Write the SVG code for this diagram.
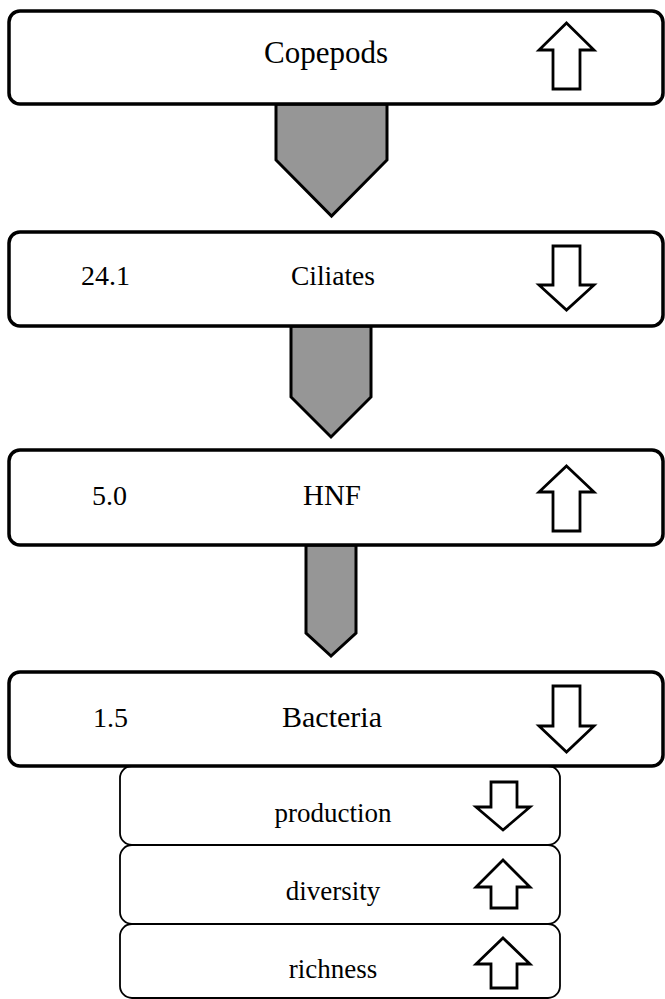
<svg xmlns="http://www.w3.org/2000/svg" width="665" height="999" viewBox="0 0 665 999">
<style>
.box{fill:#fff;stroke:#000;stroke-width:3.5}
.sub{fill:#fff;stroke:#000;stroke-width:1.8}
.flow{fill:#969696;stroke:#000;stroke-width:3;stroke-linejoin:miter}
.ind{fill:#fff;stroke:#000;stroke-width:2.8;stroke-linejoin:miter}
text{font-family:'Liberation Serif','Times New Roman',serif;fill:#000}
.lbl{font-size:29px;text-anchor:middle}
.num{font-size:28px}
.sl{font-size:27px;text-anchor:middle}
</style>
<rect width="665" height="999" fill="#fff"/>
<g id="connectors">
<polygon class="flow" points="276,104 387,104 387,160 331.5,216 276,160"/>
<polygon class="flow" points="291,326 371,326 371,397 331,437 291,397"/>
<polygon class="flow" points="306,545 356,545 356,633 331,656 306,633"/>
</g>
<g id="richness">
<rect class="sub" x="120" y="924" width="440" height="74" rx="12"/>
<text class="sl" x="333" y="978">richness</text>
<polygon class="ind" points="503,938 530,964 517,964 517,988 491,988 491,964 476,964"/>
</g>
<g id="diversity">
<rect class="sub" x="120" y="845" width="440" height="79" rx="12"/>
<text class="sl" x="333" y="900">diversity</text>
<polygon class="ind" points="503,860 530,887 517,887 517,908 491,908 491,887 476,887"/>
</g>
<g id="production">
<rect class="sub" x="120" y="766" width="440" height="79" rx="12"/>
<text class="sl" x="333" y="822">production</text>
<polygon class="ind" points="491,782 517,782 517,807 530,807 503,830 476,807 491,807"/>
</g>
<g id="copepods">
<rect class="box" x="9" y="11" width="654" height="93" rx="11"/>
<text class="lbl" x="326" y="63" style="font-size:31px">Copepods</text>
<polygon class="ind" points="566.5,23 594,50 580,50 580,89 553,89 553,50 539,50"/>
</g>
<g id="ciliates">
<rect class="box" x="9" y="232" width="654" height="94" rx="11"/>
<text class="num" x="81" y="285">24.1</text>
<text class="lbl" x="333" y="285" style="font-size:27.5px">Ciliates</text>
<polygon class="ind" points="553,246 580,246 580,285 594,285 566.5,310 539,285 553,285"/>
</g>
<g id="hnf">
<rect class="box" x="9" y="450" width="654" height="95" rx="11"/>
<text class="num" x="92" y="505">5.0</text>
<text class="lbl" x="332" y="505">HNF</text>
<polygon class="ind" points="566.5,466 594,492 580,492 580,531 553,531 553,492 539,492"/>
</g>
<g id="bacteria">
<rect class="box" x="9" y="672" width="654" height="94" rx="11"/>
<text class="num" x="93" y="727">1.5</text>
<text class="lbl" x="332" y="727" style="font-size:30px">Bacteria</text>
<polygon class="ind" points="553,686 580,686 580,726 594,726 566.5,752 539,726 553,726"/>
</g>
</svg>
